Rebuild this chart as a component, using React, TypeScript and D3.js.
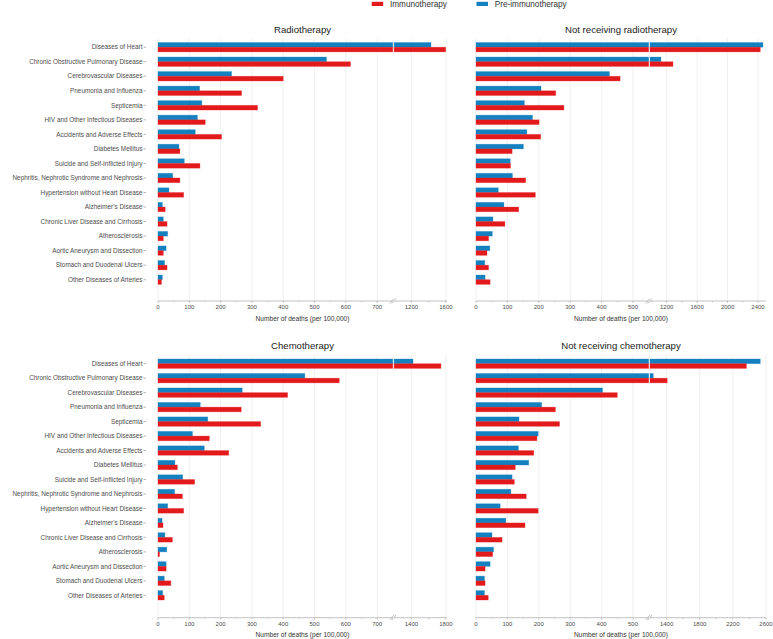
import React from "react";
import * as d3 from "d3";

const categories = [
  "Diseases of Heart",
  "Chronic Obstructive Pulmonary Disease",
  "Cerebrovascular Diseases",
  "Pneumonia and Influenza",
  "Septicemia",
  "HIV and Other Infectious Diseases",
  "Accidents and Adverse Effects",
  "Diabetes Mellitus",
  "Suicide and Self-Inflicted Injury",
  "Nephritis, Nephrotic Syndrome and Nephrosis",
  "Hypertension without Heart Disease",
  "Alzheimer's Disease",
  "Chronic Liver Disease and Cirrhosis",
  "Atherosclerosis",
  "Aortic Aneurysm and Dissection",
  "Stomach and Duodenal Ulcers",
  "Other Diseases of Arteries",
];

const seriesNames = ["Immunotherapy", "Pre-immunotherapy"];
const seriesColors = ["#E31A1C", "#1380BF"];

const radioPre = [1427, 538, 235, 133, 140, 126, 119, 67, 84, 47, 35, 14, 17, 31, 26, 21, 14];
const radioImmuno = [1597, 615, 400, 267, 318, 151, 203, 70, 134, 70, 82, 23, 29, 17, 17, 29, 11];

const noRadioPre = [2465, 1125, 425, 207, 154, 180, 162, 151, 109, 116, 71, 89, 54, 52, 44, 28, 29];
const noRadioImmuno = [2430, 1283, 459, 254, 280, 201, 206, 115, 110, 158, 189, 136, 92, 40, 35, 40, 45];

const chemoPre = [1419, 469, 269, 135, 159, 110, 148, 54, 79, 53, 31, 13, 22, 28, 26, 20, 15];
const chemoImmuno = [1742, 579, 414, 266, 328, 164, 226, 62, 117, 78, 82, 16, 46, 5, 26, 41, 20];

const noChemoPre = [2531, 1240, 403, 209, 137, 198, 135, 168, 115, 111, 77, 95, 51, 56, 45, 27, 27];
const noChemoImmuno = [2364, 1408, 450, 253, 266, 194, 184, 125, 122, 160, 198, 156, 83, 53, 29, 29, 39];

const titles = ["Radiotherapy", "Not receiving radiotherapy", "Chemotherapy", "Not receiving chemotherapy"];
const lowerTicksLeft = [0, 100, 200, 300, 400, 500, 600, 700];
const lowerTicksRight = [0, 100, 200, 300, 400, 500];
const upperTicks = [[1200, 1600], [1200, 1600, 2000, 2400], [1400, 1800], [1400, 1800, 2200, 2600]];
const lowerMax = [750, 550, 750, 550];
const upperDomain = [[1000, 1612], [981, 2505], [1200, 1812], [1200, 2600]];
const axisTitle = "Number of deaths (per 100,000)";

const FONT = "'Liberation Sans', Arial, Helvetica, sans-serif";

type PanelProps = {
  idx: number;
  pre: number[];
  immuno: number[];
  left: boolean;
  top: boolean;
};

function Panel({ idx, pre, immuno, left, top }: PanelProps) {
  const x0 = left ? 158 : 476;
  const xb = left ? 392.8 : 648.7;
  const xu = xb + 1.3;
  const x1 = left ? 447 : 766;
  const firstC = top ? 47.2 : 363.7;
  const lastC = top ? 279.7 : 595.3;
  const axisY = top ? 301 : 617.7;
  const titleY = top ? 33 : 348.5;
  const gridTop = firstC - 9;

  const lower = d3.scaleLinear().domain([0, lowerMax[idx]]).range([x0, xb]);
  const upper = d3.scaleLinear().domain(upperDomain[idx]).range([xu, x1]);
  const y = d3.scalePoint<string>().domain(categories).range([firstC, lastC]);
  const bh = 4.7;
  const lt = left ? lowerTicksLeft : lowerTicksRight;
  const ut = upperTicks[idx];
  const minorLower = lt.map((t) => t + 50).filter((t) => t < lowerMax[idx]);
  const minorUpper = ut.map((t) => t - 200).filter((t) => t > upperDomain[idx][0]).concat(
    ut.map((t) => t + 200).filter((t) => t < upperDomain[idx][1])
  );

  const renderBar = (v: number, cy: number, color: string, key: string) => {
    const segs: JSX.Element[] = [];
    if (v <= lowerMax[idx]) {
      segs.push(
        <rect key={key + "a"} x={x0} y={cy} width={lower(v) - x0} height={bh} fill={color}
          stroke={color} strokeOpacity={0.35} strokeWidth={0.8} />
      );
    } else {
      segs.push(
        <rect key={key + "a"} x={x0} y={cy} width={xb - x0} height={bh} fill={color}
          stroke={color} strokeOpacity={0.35} strokeWidth={0.8} />
      );
      segs.push(
        <rect key={key + "b"} x={xu} y={cy} width={Math.max(0, upper(v) - xu)} height={bh} fill={color}
          stroke={color} strokeOpacity={0.35} strokeWidth={0.8} />
      );
    }
    return segs;
  };

  return (
    <g>
      <text x={(x0 + x1) / 2} y={titleY} textAnchor="middle" fontSize={9.6} fill="#222" fontFamily={FONT}>
        {titles[idx]}
      </text>
      {lt.map((t) => (
        <line key={"gl" + t} x1={lower(t)} x2={lower(t)} y1={gridTop} y2={axisY} stroke="#EBEBEB" strokeWidth={0.8} />
      ))}
      {ut.map((t) => (
        <line key={"gu" + t} x1={upper(t)} x2={upper(t)} y1={gridTop} y2={axisY} stroke="#EBEBEB" strokeWidth={0.8} />
      ))}
      {categories.map((c, i) => (
        <g key={c}>
          {renderBar(pre[i], (y(c) as number) - bh, seriesColors[1], "p" + i)}
          {renderBar(immuno[i], y(c) as number, seriesColors[0], "i" + i)}
        </g>
      ))}
      {left &&
        categories.map((c) => (
          <g key={"yl" + c}>
            <line x1={143.5} x2={146} y1={y(c)} y2={y(c)} stroke="#888" strokeWidth={0.6} />
            <text x={142.5} y={(y(c) as number) + 2.2} textAnchor="end" fontSize={6.4} fill="#4D4D4D" fontFamily={FONT}>
              {c}
            </text>
          </g>
        ))}
      <line x1={x0} x2={xb} y1={axisY} y2={axisY} stroke="#A8A8A8" strokeWidth={0.7} />
      <line x1={xu} x2={x1} y1={axisY} y2={axisY} stroke="#A8A8A8" strokeWidth={0.7} />
      <line x1={xb - 3} x2={xb + 1} y1={axisY + 2.5} y2={axisY - 2.5} stroke="#999" strokeWidth={0.6} />
      <line x1={xb - 1} x2={xb + 3} y1={axisY + 2.5} y2={axisY - 2.5} stroke="#999" strokeWidth={0.6} />
      {lt.map((t) => (
        <g key={"tl" + t}>
          <line x1={lower(t)} x2={lower(t)} y1={axisY} y2={axisY + 2} stroke="#A8A8A8" strokeWidth={0.6} />
          <text x={lower(t)} y={axisY + 8} textAnchor="middle" fontSize={6} fill="#4D4D4D" fontFamily={FONT}>
            {t}
          </text>
        </g>
      ))}
      {minorLower.map((t) => (
        <line key={"ml" + t} x1={lower(t)} x2={lower(t)} y1={axisY} y2={axisY + 1.3} stroke="#BBB" strokeWidth={0.5} />
      ))}
      {ut.map((t) => (
        <g key={"tu" + t}>
          <line x1={upper(t)} x2={upper(t)} y1={axisY} y2={axisY + 2} stroke="#A8A8A8" strokeWidth={0.6} />
          <text x={upper(t)} y={axisY + 8} textAnchor="middle" fontSize={6} fill="#4D4D4D" fontFamily={FONT}>
            {t}
          </text>
        </g>
      ))}
      {minorUpper.map((t) => (
        <line key={"mu" + t} x1={upper(t)} x2={upper(t)} y1={axisY} y2={axisY + 1.3} stroke="#BBB" strokeWidth={0.5} />
      ))}
      <text x={(x0 + x1) / 2} y={axisY + 19.5} textAnchor="middle" fontSize={6.6} fill="#333" fontFamily={FONT}>
        {axisTitle}
      </text>
    </g>
  );
}

export default function App() {
  const legendX = [371.7, 476.5];
  return (
    <svg width={773} height={639} style={{ position: "absolute", left: 0, top: 0, background: "#fff" }}>
      <rect width={773} height={639} fill="#fff" />
      {seriesNames.map((n, i) => (
        <g key={n}>
          <rect x={legendX[i]} y={1.8} width={11.5} height={4.2} fill={seriesColors[i]} />
          <text x={legendX[i] + 18.3} y={6.8} fontSize={8.2} fill="#333" fontFamily={FONT}>
            {n}
          </text>
        </g>
      ))}
      <Panel idx={0} pre={radioPre} immuno={radioImmuno} left={true} top={true} />
      <Panel idx={1} pre={noRadioPre} immuno={noRadioImmuno} left={false} top={true} />
      <Panel idx={2} pre={chemoPre} immuno={chemoImmuno} left={true} top={false} />
      <Panel idx={3} pre={noChemoPre} immuno={noChemoImmuno} left={false} top={false} />
    </svg>
  );
}
